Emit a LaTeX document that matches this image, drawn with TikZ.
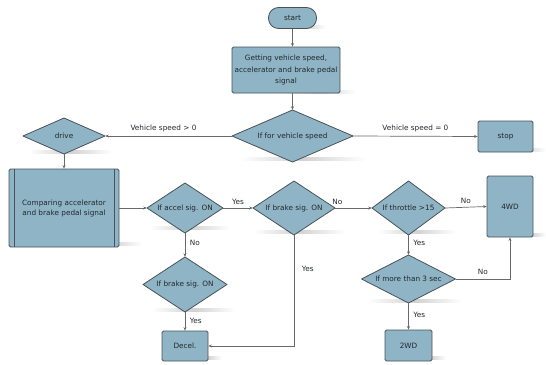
\documentclass[tikz,border=0pt]{standalone}
\usepackage{fontspec}
\setmainfont{DejaVu Sans}
\usetikzlibrary{arrows.meta}
\definecolor{fillc}{RGB}{142,180,197}
\definecolor{linec}{RGB}{72,82,88}
\definecolor{arrc}{RGB}{105,105,105}
\definecolor{txtc}{RGB}{35,40,45}
\tikzset{
  txt/.style={font=\fontsize{7.3}{10.5}\selectfont, text=txtc, align=center},
  boxst/.style={txt, fill=fillc, draw=linec, line width=0.8pt, rounded corners=1.5pt, inner sep=0pt},
  pillst/.style={boxst, rounded corners=10pt},
  dtext/.style={txt, inner sep=0pt},
  dfill/.style={fill=fillc, draw=linec, line width=0.8pt, line join=round},
  conn/.style={draw=arrc, line width=0.7pt, -{Stealth[length=3.5pt,width=3pt]}},
  lbl/.style={font=\fontsize{7.3}{9}\selectfont, text=txtc, inner sep=1.5pt},
  shad/.style={left color=white, right color=white, middle color=black!18}
}
% shadow bar: x1, x2, y
\newcommand\myshadow[3]{\shade[shad] ({#1},{#3-1.2}) rectangle ({#2},{#3+1.2});}
% diamond: name, x, y, w, h, text
\newcommand\mydiamond[6]{%
  \draw[dfill] ({#2-#4/2},{#3}) -- ({#2},{#3-#5/2}) -- ({#2+#4/2},{#3}) -- ({#2},{#3+#5/2}) -- cycle;
  \node[dtext, minimum width=#4, minimum height=#5] (#1) at ({#2},{#3}) {#6};}
\begin{document}
\begin{tikzpicture}[x=1pt,y=-1pt]
\useasboundingbox (0,0) rectangle (546,364);
% shadows
\myshadow{282}{326}{27}
\myshadow{282}{356}{92}
\myshadow{240}{366}{159}
\myshadow{29}{112}{152}
\myshadow{500}{546}{150}
\myshadow{80}{142}{244}
\myshadow{150}{230}{228}
\myshadow{253}{345}{232}
\myshadow{378}{455}{232}
\myshadow{518}{546}{235}
\myshadow{152}{235}{310}
\myshadow{368}{462}{301}
\myshadow{192}{222}{358}
\myshadow{415}{446}{358}
% boxes
\node[pillst, minimum width=48, minimum height=21] (start) at (292.5,18) {start};
\node[boxst, minimum width=108, minimum height=46, font=\fontsize{7.3}{11.5}\selectfont] (get) at (286,70)
  {Getting vehicle speed,\\accelerator and brake pedal\\signal};
\mydiamond{dmain}{292.5}{136}{121}{52}{If for vehicle speed}
\mydiamond{drive}{64}{136}{82}{36}{drive}
\node[boxst, minimum width=55, minimum height=31] (stop) at (505.5,136.5) {stop};
\node[boxst, minimum width=110, minimum height=78, font=\fontsize{7.3}{10}\selectfont] (comp) at (64,208)
  {Comparing accelerator\\and brake pedal signal};
\draw[linec, line width=0.8pt] ([xshift=5.5]comp.north west) -- ([xshift=5.5]comp.south west);
\draw[linec, line width=0.8pt] ([xshift=-5.5]comp.north east) -- ([xshift=-5.5]comp.south east);
\mydiamond{accel}{185}{208}{76}{50}{If accel sig. ON}
\mydiamond{bu}{294}{208}{82}{54}{If brake sig. ON}
\mydiamond{thr}{408.5}{208}{73}{54}{If throttle >15}
\node[boxst, minimum width=46, minimum height=61] (fwd) at (510,206.5) {4WD};
\mydiamond{bl}{185}{284.5}{84}{55}{If brake sig. ON}
\mydiamond{m3}{408.5}{279}{94}{48}{If more than 3 sec}
\node[boxst, minimum width=46, minimum height=30] (decel) at (185,346) {Decel.};
\node[boxst, minimum width=47, minimum height=31] (twd) at (408.5,345.5) {2WD};
% connectors
\draw[conn] (start.south) -- (get.north -| start.south);
\draw[conn] (dmain.north |- get.south) -- (dmain.north);
\draw[conn] (dmain.west) -- node[lbl, above=2.5pt, xshift=-5pt] {Vehicle speed > 0} (drive.east);
\draw[conn] (dmain.east) -- node[lbl, above=2.5pt] {Vehicle speed = 0} (stop.west);
\draw[conn] (drive.south) -- (comp.north);
\draw[conn] (comp.east) -- (accel.west);
\draw[conn] (accel.east) -- node[lbl, above=2pt] {Yes} (bu.west);
\draw[conn] (bu.east) -- node[lbl, above=2pt, pos=0.06] {No} (thr.west);
\draw[conn] (thr.east) -- node[lbl, above=2pt] {No} (fwd.west);
\draw[conn] (accel.south) -- node[lbl, right=3pt, pos=0.4] {No} (bl.north);
\draw[conn] (bl.south) -- node[lbl, right=3pt, pos=0.45] {Yes} (decel.north);
\draw[conn] (bu.south) |- node[lbl, right=6pt, pos=0.15] {Yes} (decel.east);
\draw[conn] (thr.south) -- node[lbl, right=3pt, pos=0.4] {Yes} (m3.north);
\draw[conn] (m3.east) -| node[lbl, above=3pt, pos=0.25] {No} (fwd.south);
\draw[conn] (m3.south) -- node[lbl, right=3pt, pos=0.45] {Yes} (twd.north);
\end{tikzpicture}
\end{document}
